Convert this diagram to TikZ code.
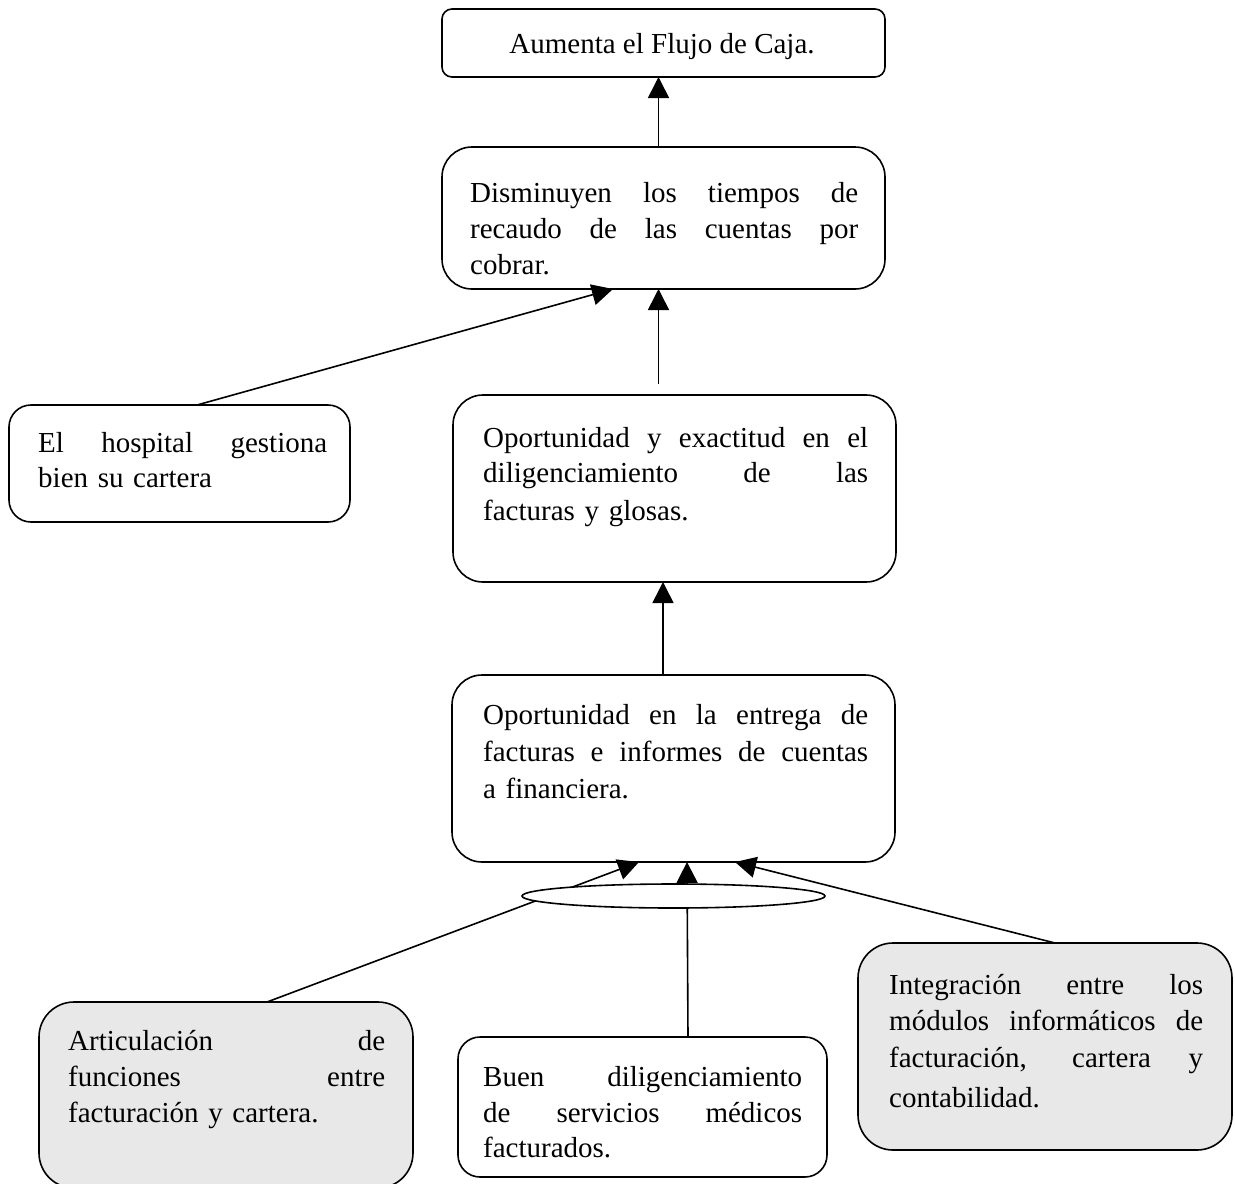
\documentclass[tikz,border=0pt]{standalone}
\usepackage{fontspec}
\setmainfont{Liberation Serif}
\usetikzlibrary{arrows.meta,shapes.geometric}
\definecolor{boxgray}{RGB}{232,232,232}
\newcommand{\jl}[2]{\makebox[#1][s]{\spaceskip=0pt\xspaceskip=0pt #2}}
\newcommand{\fl}{\rule{0pt}{26pt}}
\begin{document}
\begin{tikzpicture}[x=1pt,y=-1pt,
  boxnode/.style={draw, line width=1.6pt, rounded corners=#1, anchor=north west, inner sep=0pt, outer sep=0pt},
  boxnode/.default=30pt,
  graybox/.style={fill=boxgray},
  txt/.style={inner sep=0pt, anchor=north west, font=\fontsize{29}{36}\selectfont},
  conn/.style={line width=1.6pt},
  arr/.style={conn, -{Triangle[length=21pt,width=21pt]}},
]
\useasboundingbox (0,0) rectangle (1235,1184);

% boxes
\node[boxnode=10pt, minimum width=443pt, minimum height=68pt] (b1) at (442,9) {};
\node[txt, anchor=base] (t1) at (662,53) {Aumenta el Flujo de Caja.};

\node[boxnode=30pt, minimum width=443pt, minimum height=142pt] (b2) at (442,147) {};
\node[txt, text width=388pt] (t2) at (470,176) {\fl\jl{388pt}{Disminuyen los tiempos de}\\\jl{388pt}{recaudo de las cuentas por}\\cobrar.};

\node[boxnode=22pt, minimum width=341pt, minimum height=117pt] (b3) at (9,405) {};
\node[txt, text width=289pt] (t3) at (38,426) {\fl\jl{289pt}{El hospital gestiona}\\[-1pt]bien su cartera};

\node[boxnode=30pt, minimum width=443pt, minimum height=187pt] (b4) at (453,395) {};
\node[txt, text width=385pt] (t4) at (483,421) {\fl\jl{385pt}{Oportunidad y exactitud en el}\\[-1pt]\jl{385pt}{diligenciamiento de las}\\[2pt]facturas y glosas.};

\node[boxnode=30pt, minimum width=443pt, minimum height=187pt] (b5) at (452,675) {};
\node[txt, text width=385pt] (t5) at (483,698) {\fl\jl{385pt}{Oportunidad en la entrega de}\\[1pt]\jl{385pt}{facturas e informes de cuentas}\\[1pt]a financiera.};

\node[boxnode=35pt, graybox, minimum width=374pt, minimum height=186pt] (b7) at (39,1002) {};
\node[txt, text width=317pt] (t7) at (68,1024) {\fl\jl{317pt}{Articulación de}\\\jl{317pt}{funciones entre}\\facturación y cartera.};

\node[boxnode=22pt, minimum width=369pt, minimum height=140pt] (b8) at (458,1037) {};
\node[txt, text width=319pt] (t8) at (483,1060) {\fl\jl{319pt}{Buen diligenciamiento}\\[0pt]\jl{319pt}{de servicios médicos}\\[-1pt]facturados.};

\node[boxnode=35pt, graybox, minimum width=374pt, minimum height=207pt] (b9) at (858,943) {};
\node[txt, text width=314pt] (t9) at (889,968) {\fl\jl{314pt}{Integración entre los}\\\jl{314pt}{módulos informáticos de}\\[1pt]\jl{314pt}{facturación, cartera y}\\[4pt]contabilidad.};

% connectors
\draw[arr] ([xshift=-5pt]b2.north) -- ([xshift=-5pt]b1.south);
\draw[arr] ([xshift=17.5pt]b3.north) -- ([xshift=-50.5pt]b2.south);
\draw[arr] ([xshift=-16pt,yshift=11pt]b4.north) -- ([xshift=-5pt]b2.south);
\draw[arr] ([xshift=-10.5pt]b5.north) -- ([xshift=-11.5pt]b4.south);
\draw[arr] ([xshift=41pt]b7.north) -- ([xshift=-34.5pt]b5.south);
\draw[arr] ([xshift=45.5pt]b8.north) -- ([xshift=13.5pt]b5.south);
\draw[arr] ([xshift=10pt]b9.north) -- ([xshift=61.5pt]b5.south);

% ellipse over the lines
\node[draw, ellipse, line width=1.6pt, fill=white, minimum width=303pt, minimum height=24pt, inner sep=0pt] (ell) at (673.5,896) {};
\end{tikzpicture}
\end{document}
